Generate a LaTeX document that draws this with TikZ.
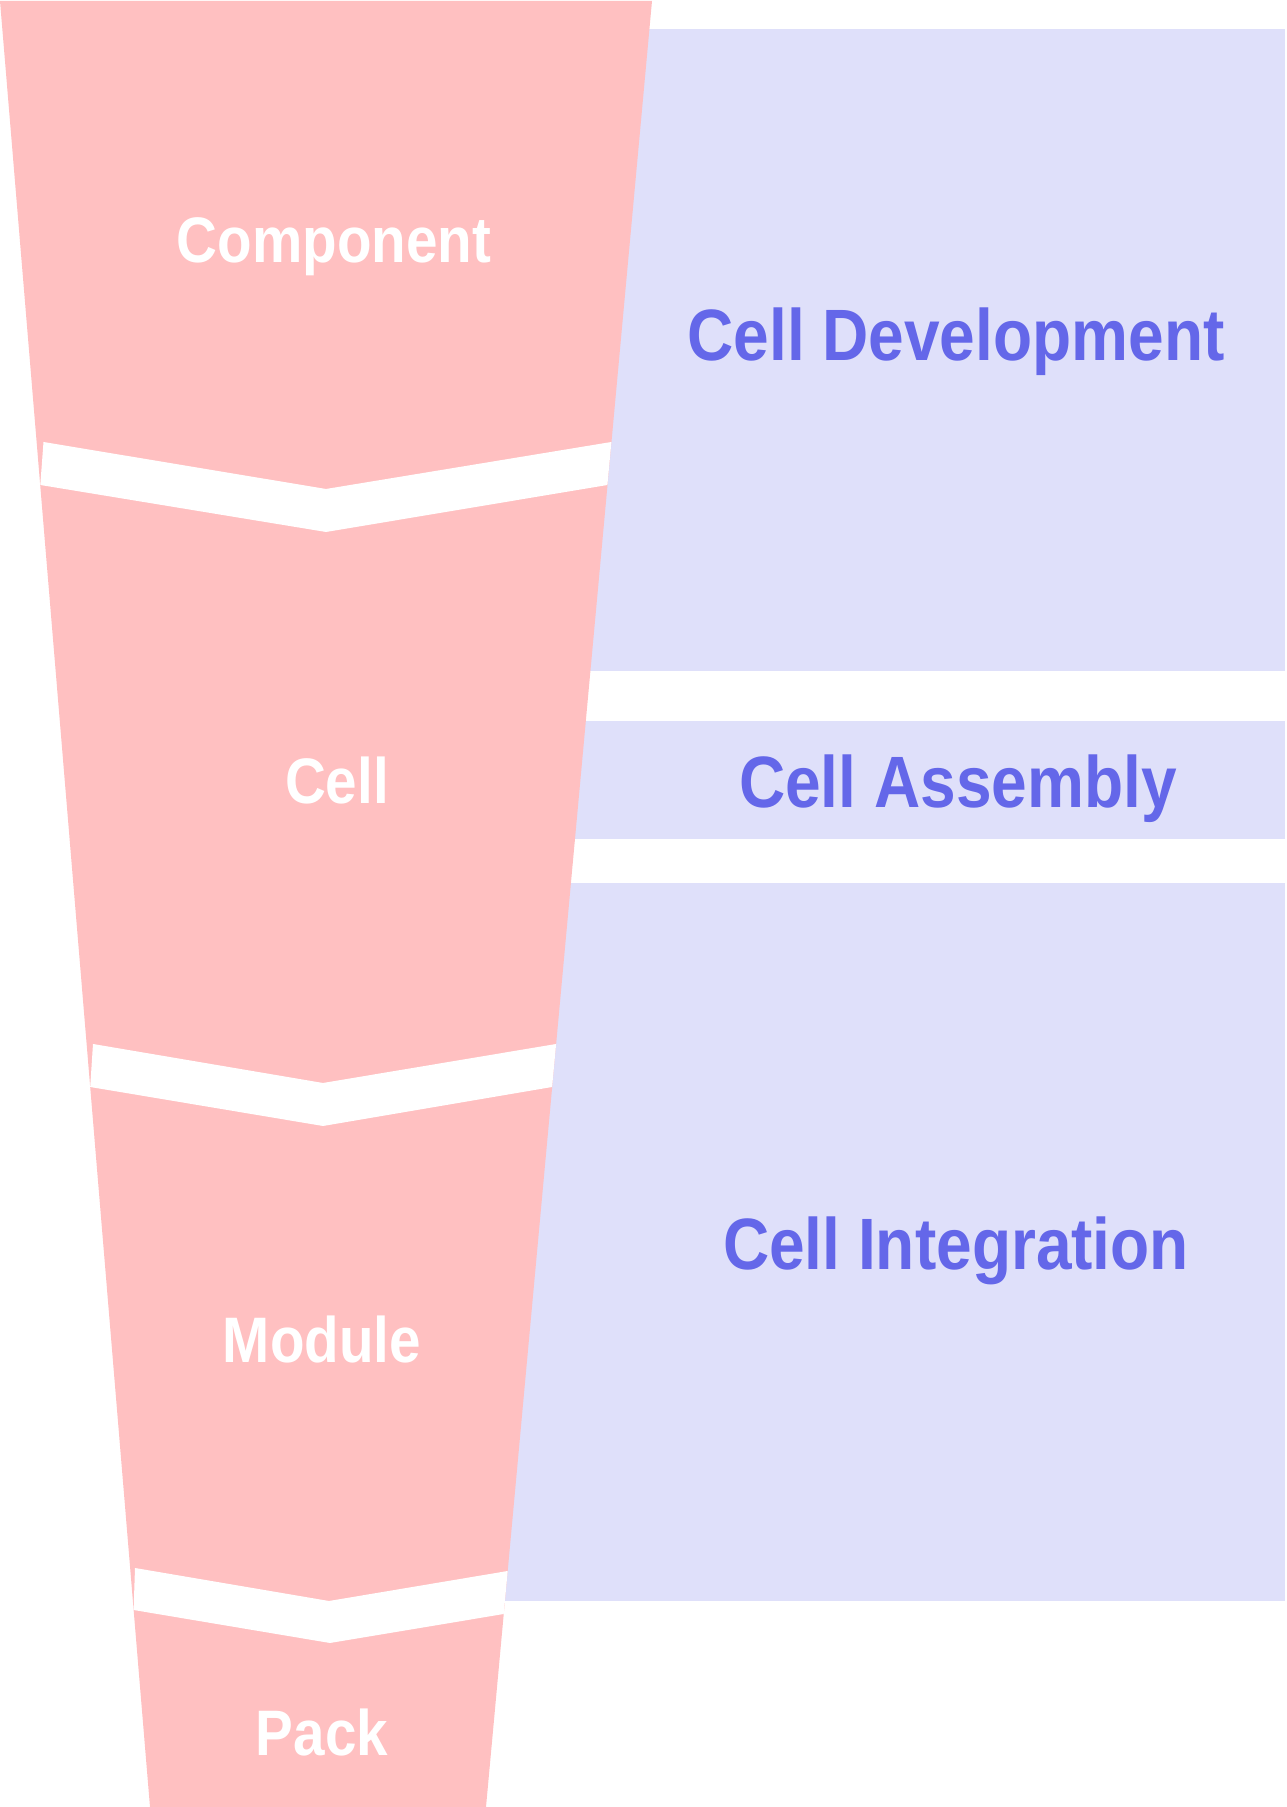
\documentclass[tikz,border=0pt]{standalone}
\usepackage{fontspec}
\setmainfont{Liberation Sans}[FakeStretch=0.88]
\definecolor{funnelpink}{HTML}{FFC0C1}
\definecolor{phasebg}{HTML}{DFE0FA}
\definecolor{phaseink}{HTML}{6467E9}
\begin{document}
\begin{tikzpicture}[
        stagelabel/.style={anchor=base, text=white, font=\fontsize{18.3}{22}\selectfont\bfseries},
        phaselabel/.style={anchor=base, text=phaseink, font=\fontsize{20.7}{25}\selectfont\bfseries}]
                \useasboundingbox (0.000000,0.000000) rectangle (12.860000,18.070000);%
                
                % Drawing phase panel Cell Development
                \fill [phasebg] (5.500000,17.780000) rectangle (12.850000,11.360000);%
                
                % Drawing phase panel Cell Assembly
                \fill [phasebg] (5.000000,10.860000) rectangle (12.850000,9.680000);%
                
                % Drawing phase panel Cell Integration
                \fill [phasebg] (4.700000,9.240000) rectangle (12.850000,2.060000);%
                
                % Drawing funnel
                \fill [funnelpink] (0.000000,18.060000) -- (6.520000,18.060000) -- (4.860000,0.000000) -- (1.500000,0.000000) -- cycle;%
                
                % Drawing cut between Component and Cell
                \fill [white] (0.435000,13.650000) -- (3.260000,13.180000) -- (6.114000,13.650000) -- (6.074000,13.220000) -- (3.260000,12.750000) -- (0.403000,13.220000) -- cycle;%
                
                % Drawing cut between Cell and Module
                \fill [white] (0.930000,7.630000) -- (3.230000,7.240000) -- (5.561000,7.630000) -- (5.521000,7.200000) -- (3.230000,6.810000) -- (0.902000,7.200000) -- cycle;%
                
                % Drawing cut between Module and Pack
                \fill [white] (1.350000,2.390000) -- (3.290000,2.060000) -- (5.077000,2.360000) -- (5.037000,1.930000) -- (3.300000,1.640000) -- (1.336000,1.970000) -- cycle;%
                
                % Marking stages
                \node [stagelabel] (component) at (3.340000,15.440000) {Component};%
                \node [stagelabel] (cell) at (3.370000,10.030000) {Cell};%
                \node [stagelabel] (module) at (3.220000,4.440000) {Module};%
                \node [stagelabel] (pack) at (3.220000,0.520000) {Pack};%
                
                % Marking phases
                \node [phaselabel] (development) at (9.560000,14.460000) {Cell Development};%
                \node [phaselabel] (assembly) at (9.580000,9.990000) {Cell Assembly};%
                \node [phaselabel] (integration) at (9.560000,5.370000) {Cell Integration};%
\end{tikzpicture}
\end{document}
